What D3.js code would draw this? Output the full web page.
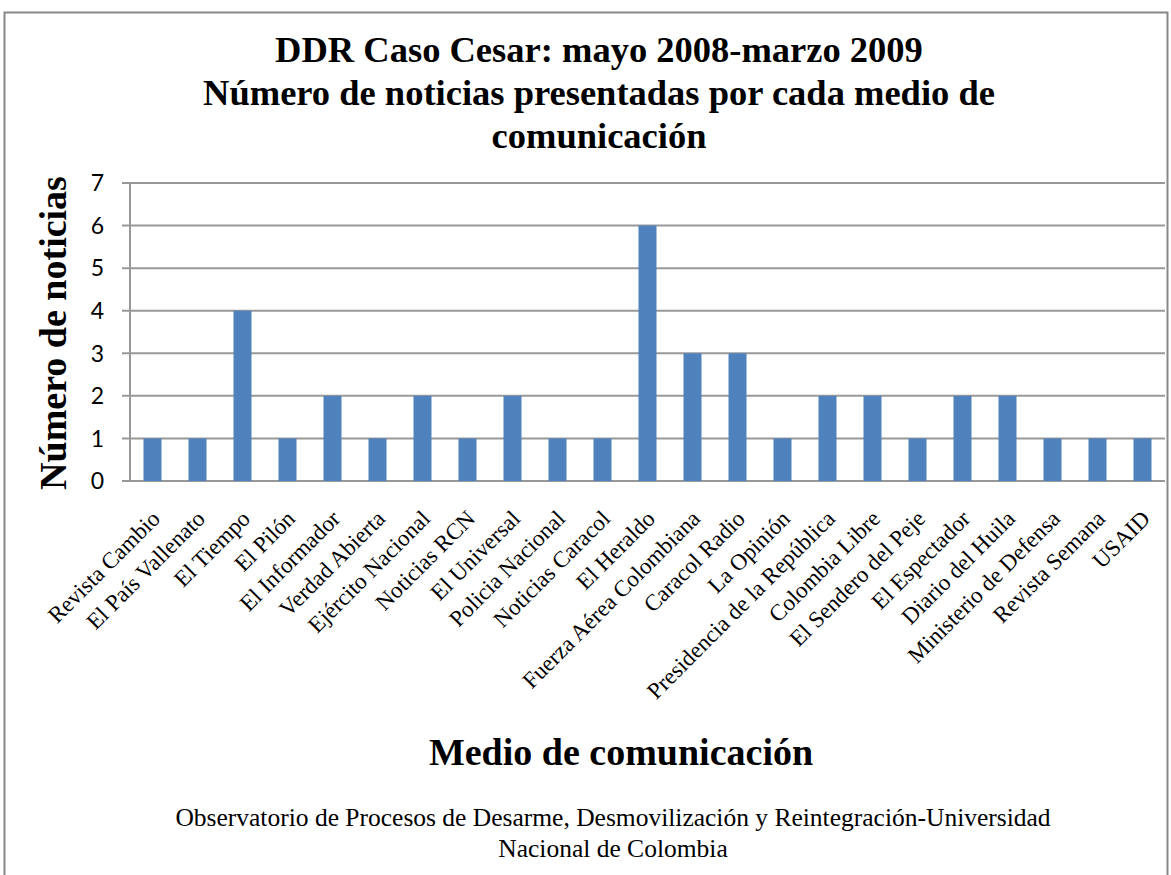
<!DOCTYPE html>
<html lang="es">
<head>
  <meta charset="utf-8">
  <title>DDR Caso Cesar</title>
  <script src="https://d3js.org/d3.v7.js"></script>
  <style>
    body { margin: 0; background: #fff; }
    .serif { font-family: "Liberation Serif", "DejaVu Serif", serif; }
  </style>
</head>
<body>
  <div id="my_dataviz"></div>

  <script>
    // Data
    var medios = [
      "Revista Cambio", "El País Vallenato", "El Tiempo", "El Pilón", "El Informador",
      "Verdad Abierta", "Ejército Nacional", "Noticias RCN", "El Universal", "Policia Nacional",
      "Noticias Caracol", "El Heraldo", "Fuerza Aérea Colombiana", "Caracol Radio", "La Opinión",
      "Presidencia de la República", "Colombia Libre", "El Sendero del Peje", "El Espectador",
      "Diario del Huila", "Ministerio de Defensa", "Revista Semana", "USAID"
    ];
    var noticias = [1, 1, 4, 1, 2, 1, 2, 1, 2, 1, 1, 6, 3, 3, 1, 2, 2, 1, 2, 2, 1, 1, 1];
    var yTicks = [0, 1, 2, 3, 4, 5, 6, 7];

    var W = 1171, H = 875;
    var margin = {top: 183, left: 130, right: 6, bottom: 394};
    var width = W - margin.left - margin.right,
        height = H - margin.top - margin.bottom;

    var root = d3.select("#my_dataviz")
      .append("svg")
      .attr("width", W)
      .attr("height", H);

    // outer frame
    root.append("rect")
      .attr("x", 4.5).attr("y", 12.5)
      .attr("width", 1163).attr("height", 870)
      .attr("fill", "none")
      .attr("stroke", "#878787")
      .attr("stroke-width", 2);

    // title
    var title = ["DDR Caso Cesar: mayo 2008-marzo 2009",
                 "Número de noticias presentadas por cada medio de",
                 "comunicación"];
    root.append("text")
      .attr("class", "serif")
      .attr("text-anchor", "middle")
      .attr("font-size", 36.5)
      .attr("font-weight", "bold")
      .selectAll("tspan")
      .data(title)
      .join("tspan")
      .attr("x", 599)
      .attr("y", function(d, i) { return 62 + i * 43; })
      .text(function(d) { return d; });

    var svg = root.append("g")
      .attr("transform", "translate(" + margin.left + "," + margin.top + ")");

    var x = d3.scaleBand()
      .domain(medios)
      .range([0, width])
      .paddingInner(0.6)
      .paddingOuter(0.3);

    var y = d3.scaleLinear()
      .domain([0, 7])
      .range([height, 0]);

    // gridlines
    svg.append("g")
      .selectAll("line")
      .data(yTicks)
      .join("line")
      .attr("x1", -8).attr("x2", width)
      .attr("y1", function(d) { return y(d); })
      .attr("y2", function(d) { return y(d); })
      .attr("stroke", "#989898")
      .attr("stroke-width", 2);

    // y axis line
    svg.append("line")
      .attr("x1", 0).attr("x2", 0)
      .attr("y1", 0).attr("y2", height)
      .attr("stroke", "#989898")
      .attr("stroke-width", 2);

    // y tick labels
    svg.append("g")
      .selectAll("text")
      .data(yTicks)
      .join("text")
      .attr("x", -26)
      .attr("y", function(d) { return y(d); })
      .attr("dy", "0.36em")
      .attr("text-anchor", "end")
      .attr("font-family", "Lato, 'Open Sans', sans-serif")
      .attr("font-size", 23)
      .text(function(d) { return d; });

    // bars
    svg.selectAll("rect.bar")
      .data(noticias)
      .join("rect")
      .attr("class", "bar")
      .attr("x", function(d, i) { return x(medios[i]); })
      .attr("y", function(d) { return y(d); })
      .attr("width", x.bandwidth())
      .attr("height", function(d) { return height - y(d); })
      .attr("fill", "#4F81BD");

    // x labels
    svg.append("g")
      .selectAll("text")
      .data(medios)
      .join("text")
      .attr("class", "serif")
      .attr("font-size", 23)
      .attr("text-anchor", "end")
      .attr("transform", function(d) {
        return "translate(" + (x(d) + x.bandwidth() / 2 + 9) + "," + (height + 39) + ") rotate(-45)";
      })
      .text(function(d) { return d; });

    // axis titles
    root.append("text")
      .attr("class", "serif")
      .attr("font-size", 38)
      .attr("font-weight", "bold")
      .attr("text-anchor", "middle")
      .attr("transform", "translate(66,333) rotate(-90)")
      .text("Número de noticias");

    root.append("text")
      .attr("class", "serif")
      .attr("font-size", 38)
      .attr("font-weight", "bold")
      .attr("text-anchor", "middle")
      .attr("x", 621).attr("y", 765)
      .text("Medio de comunicación");

    // source
    var fuente = ["Observatorio de Procesos de Desarme, Desmovilización y Reintegración-Universidad",
                  "Nacional de Colombia"];
    root.append("text")
      .attr("class", "serif")
      .attr("font-size", 25.5)
      .attr("text-anchor", "middle")
      .selectAll("tspan")
      .data(fuente)
      .join("tspan")
      .attr("x", 613)
      .attr("y", function(d, i) { return 826 + i * 31; })
      .text(function(d) { return d; });
  </script>
</body>
</html>
